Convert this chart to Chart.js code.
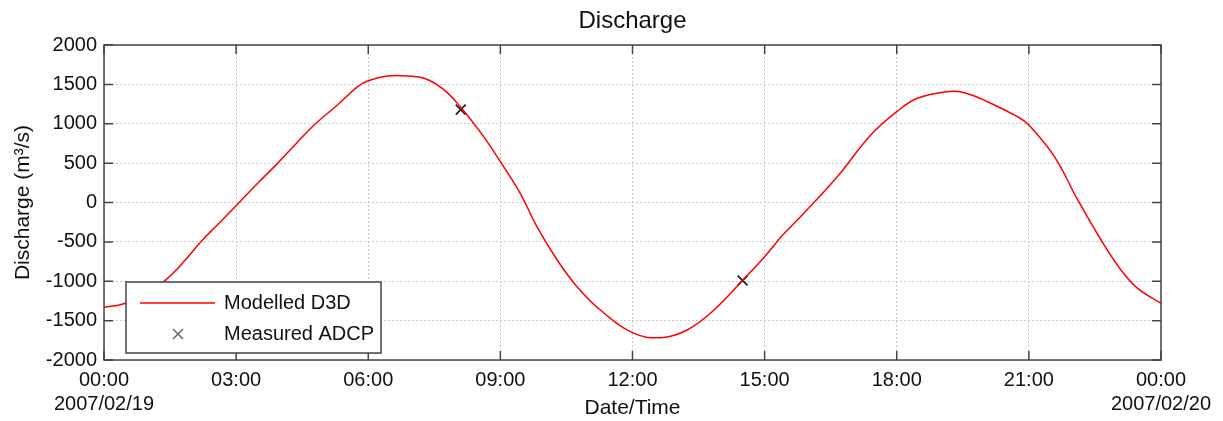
<!DOCTYPE html>
<html>
<head>
<meta charset="utf-8">
<script src="https://cdn.jsdelivr.net/npm/chart.js@4/dist/chart.umd.min.js"></script>
<style>
    body { margin: 0; background: #fff; }
    #wrap { width: 1223px; height: 421px; }
</style>
</head>
<body>
<div id="wrap"><canvas id="chartDischarge" width="1223" height="421"></canvas></div>
<script>
// Modelled discharge (Delft3D), hours since 2007/02/19 00:00
const hours = [
    0.0, 0.45, 1.0, 1.36, 1.8, 2.2, 2.6, 3.0, 3.5, 3.94, 4.35, 4.77, 5.3, 5.76,
    6.0, 6.44, 6.9, 7.27, 7.7, 8.1, 8.62, 9.0, 9.45, 9.83, 10.29, 10.74, 11.27,
    12.0, 12.64, 13.24, 13.85, 14.49, 15.0, 15.4, 15.89, 16.65, 17.41, 18.0,
    18.47, 19.15, 19.53, 20.06, 20.74, 21.0, 21.58, 22.11, 22.64, 23.09, 23.47, 24.0
];
const discharge = [
    -1330, -1285, -1150, -1005, -760, -497, -270, -40, 250, 497, 740, 984, 1238, 1471,
    1547, 1605, 1606, 1577, 1440, 1210, 836, 518, 117, -307, -730, -1069, -1365,
    -1653, -1717, -1619, -1365, -993, -688, -420, -137, 328, 857, 1153,
    1323, 1407, 1394, 1280, 1090, 984, 582, 32, -476, -857, -1090, -1280
];

// Measured ADCP discharge
const adcpHours  = [8.1, 14.5];
const adcpValues = [1180, -990];

const xTickValues = [0, 3, 6, 9, 12, 15, 18, 21, 24];
const xTickLabels = [
    ['00:00', '2007/02/19'], '03:00', '06:00', '09:00', '12:00',
    '15:00', '18:00', '21:00', ['00:00', '2007/02/20']
];

const FONT = 'Liberation Sans, Arial, sans-serif';

// frame, inward tick marks and the boxed legend drawn on top of the plot
const framePlugin = {
    id: 'frame',
    afterDraw(chart) {
        const { ctx, chartArea: a } = chart;
        const xs = chart.scales.x;
        const ys = chart.scales.y;
        const len = 9;

        ctx.save();
        ctx.strokeStyle = '#444';
        ctx.lineWidth = 1.5;
        ctx.beginPath();
        xs.ticks.forEach(t => {
            const px = xs.getPixelForValue(t.value);
            ctx.moveTo(px, a.bottom); ctx.lineTo(px, a.bottom - len);
            ctx.moveTo(px, a.top);    ctx.lineTo(px, a.top + len);
        });
        ys.ticks.forEach(t => {
            const py = ys.getPixelForValue(t.value);
            ctx.moveTo(a.left, py);  ctx.lineTo(a.left + len, py);
            ctx.moveTo(a.right, py); ctx.lineTo(a.right - len, py);
        });
        ctx.stroke();
        ctx.strokeRect(a.left, a.top, a.right - a.left, a.bottom - a.top);

        // legend
        const bx = a.left + 22, by = a.bottom - 78, bw = 255, bh = 71;
        ctx.fillStyle = '#fff';
        ctx.fillRect(bx, by, bw, bh);
        ctx.strokeStyle = '#444';
        ctx.lineWidth = 1.5;
        ctx.strokeRect(bx, by, bw, bh);

        const ds = chart.data.datasets;
        const r1 = by + 21, r2 = by + 52;
        ctx.strokeStyle = ds[0].borderColor;
        ctx.lineWidth = 1.5;
        ctx.beginPath();
        ctx.moveTo(bx + 14, r1); ctx.lineTo(bx + 89, r1);
        ctx.stroke();

        ctx.strokeStyle = '#666';
        ctx.beginPath();
        ctx.moveTo(bx + 47, r2 - 5); ctx.lineTo(bx + 57, r2 + 5);
        ctx.moveTo(bx + 57, r2 - 5); ctx.lineTo(bx + 47, r2 + 5);
        ctx.stroke();

        ctx.fillStyle = '#111';
        ctx.font = '20px ' + FONT;
        ctx.textBaseline = 'middle';
        ctx.fillText(ds[0].label, bx + 98, r1);
        ctx.fillText(ds[1].label, bx + 98, r2);
        ctx.restore();
    }
};

new Chart(document.getElementById('chartDischarge'), {
    type: 'line',
    data: {
        datasets: [{
            label: 'Modelled D3D',
            data: hours.map((h, i) => ({ x: h, y: discharge[i] })),
            borderColor: '#ff0000',
            borderWidth: 1.5,
            pointRadius: 0,
            tension: 0.4,
            fill: false,
        }, {
            label: 'Measured ADCP',
            data: adcpHours.map((h, i) => ({ x: h, y: adcpValues[i] })),
            showLine: false,
            pointStyle: 'crossRot',
            pointRadius: 7,
            pointBorderWidth: 1.8,
            borderColor: '#222',
            backgroundColor: '#222',
        }],
    },
    options: {
        responsive: false,
        animation: false,
        layout: { padding: { left: 0, right: 62, top: 0, bottom: 0 } },
        plugins: {
            legend: { display: false },
            tooltip: { enabled: false },
            title: {
                display: true,
                text: 'Discharge',
                fullSize: false,
                color: '#111',
                font: { family: FONT, size: 24, weight: 'normal' },
                padding: { top: 7, bottom: 9.2 },
            },
        },
        scales: {
            x: {
                type: 'linear',
                min: 0,
                max: 24,
                afterBuildTicks: s => { s.ticks = xTickValues.map(v => ({ value: v })); },
                afterFit: s => { s.height = 61; },
                ticks: {
                    autoSkip: false,
                    maxRotation: 0,
                    padding: 8,
                    color: '#111',
                    font: { family: FONT, size: 20 },
                    callback: (v, i) => xTickLabels[i],
                },
                grid: { color: '#c8c8c8', lineWidth: 1, drawTicks: false },
                border: { display: false, dash: [2, 2] },
                title: {
                    display: true,
                    text: 'Date/Time',
                    color: '#111',
                    font: { family: FONT, size: 21 },
                    padding: { top: 0, bottom: 0 },
                },
            },
            y: {
                min: -2000,
                max: 2000,
                afterFit: s => { s.width = 104; },
                ticks: {
                    stepSize: 500,
                    padding: 7,
                    color: '#111',
                    font: { family: FONT, size: 20 },
                    callback: v => String(v),
                },
                grid: { color: '#c8c8c8', lineWidth: 1, drawTicks: false },
                border: { display: false, dash: [2, 2] },
                title: {
                    display: true,
                    text: 'Discharge (m³/s)',
                    color: '#111',
                    font: { family: FONT, size: 21 },
                    padding: { top: 11, bottom: 0 },
                },
            },
        },
    },
    plugins: [framePlugin],
});
</script>
</body>
</html>
